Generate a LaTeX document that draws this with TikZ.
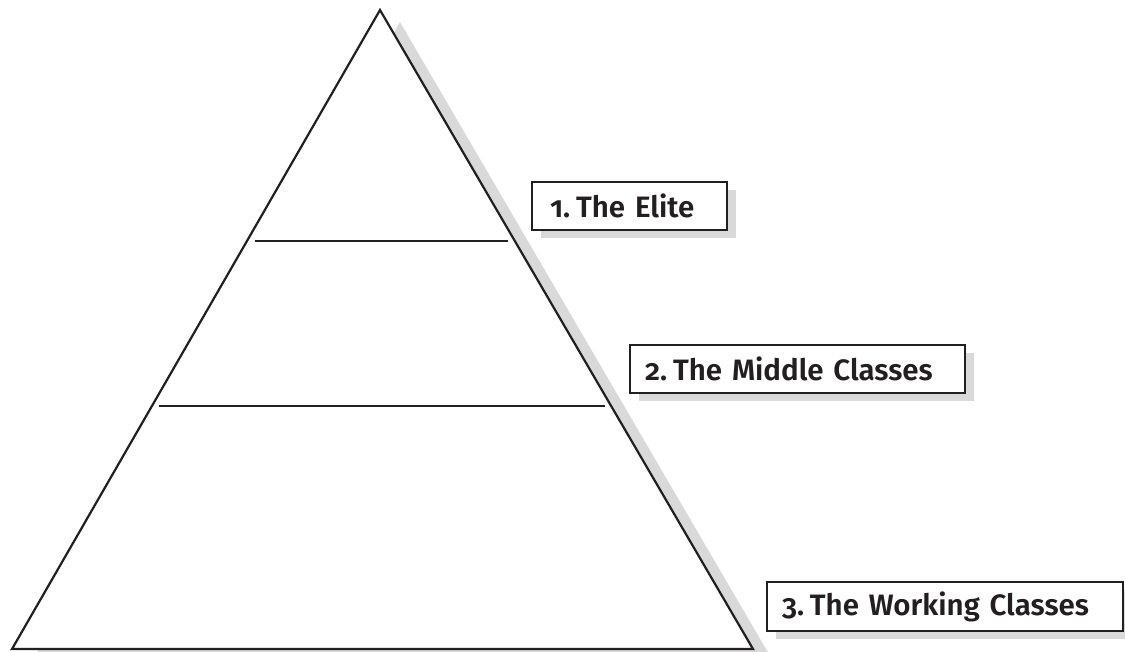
\documentclass[tikz,border=0pt]{standalone}
\usepackage{fontspec}
\setmainfont{Fira Sans}[Numbers=OldStyle,BoldFont={Fira Sans SemiBold}]
\usetikzlibrary{shadows}
\definecolor{shadowgray}{HTML}{D9D9D9}
\definecolor{ink}{HTML}{231F20}
\begin{document}
\begin{tikzpicture}[x=1pt,y=-1pt,
  edge/.style={draw=ink,line width=2.2pt,line join=miter},
  label box/.style={draw=ink,line width=2.2pt,fill=white,rectangle,
    font=\fontsize{29.5}{32}\selectfont\bfseries,text=ink,align=left,
    inner ysep=0pt,
    drop shadow={shadow xshift=9pt,shadow yshift=-8pt,fill=shadowgray,opacity=1}}]
\useasboundingbox (0,0) rectangle (1125,651);
\coordinate (A) at (380,10);
\coordinate (BL) at (12,649);
\coordinate (BR) at (753,649);
% shadow of pyramid
\fill[fill=shadowgray] ([shift={(20,12)}]A) -- ([shift={(20,12)}]BR) -- ([shift={(20,12)}]BL) -- cycle;
\filldraw[edge,fill=white] (A) -- (BR) -- (BL) -- cycle;
\coordinate (l1a) at (255,241);
\coordinate (l1b) at (508,241);
\coordinate (l2a) at (159,406);
\coordinate (l2b) at (605,406);
\draw[edge] (l1a) -- (l1b);
\draw[edge] (l2a) -- (l2b);
\node[label box,minimum height=48pt,text width=159pt,inner xsep=18pt] (elite) at (629.5,206) {1.\hspace{0.2em}The Elite};
\node[label box,minimum height=48pt,text width=305pt,inner xsep=15pt] (middle) at (797.5,369) {2.\hspace{0.2em}The Middle Classes};
\node[label box,minimum height=49pt,text width=326pt,inner xsep=15pt] (working) at (945,606.5) {3.\hspace{0.2em}The Working Classes};
\end{tikzpicture}
\end{document}
